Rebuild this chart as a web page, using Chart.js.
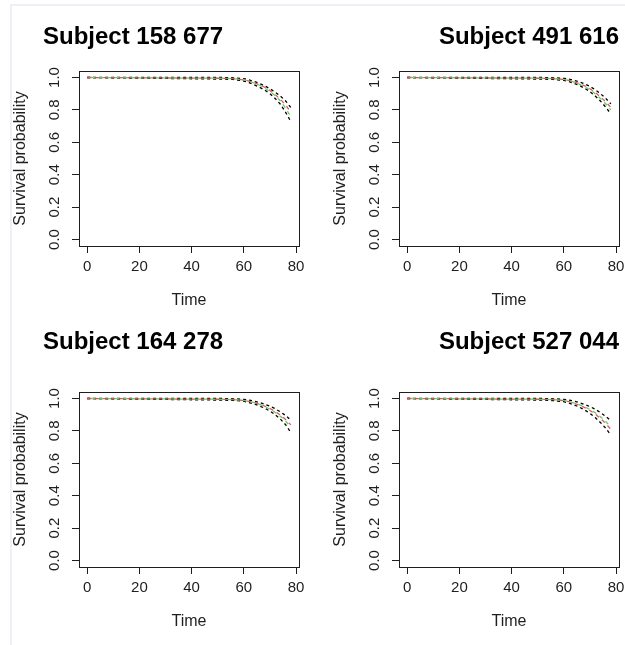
<!DOCTYPE html>
<html>
<head>
<meta charset="utf-8">
<script src="https://cdn.jsdelivr.net/npm/chart.js@4.4.0/dist/chart.umd.min.js"></script>
<style>
  html, body { margin: 0; padding: 0; background: #fff; overflow: hidden; }
  body { width: 625px; height: 645px; position: relative; }
  .frame { position: absolute; left: 10px; top: 4px; width: 640px; height: 660px;
           border-top: 2px solid #edf1f6; border-left: 2px solid #edf1f6; }
  canvas { position: absolute; }
</style>
</head>
<body>
<div class="frame"></div>
<canvas id="c1" width="320" height="320" style="left:0;top:0"></canvas>
<canvas id="c2" width="320" height="320" style="left:320px;top:0"></canvas>
<canvas id="c3" width="320" height="320" style="left:0;top:321px"></canvas>
<canvas id="c4" width="320" height="320" style="left:320px;top:321px"></canvas>
<script>
// time points shared by all curves
const times = [0, 52, 56, 60, 62, 64, 66, 68, 70, 72, 74, 76, 78];
const xTicks = [0, 20, 40, 60, 80];
const yTicks = [0, 0.2, 0.4, 0.6, 0.8, 1.0];

// Subject 158 677
const s1Upper = [1, 1, 0.998, 0.993, 0.985, 0.975, 0.963, 0.948, 0.93, 0.91, 0.885, 0.855, 0.815];
const s1Red   = [1, 0.995, 0.993, 0.985, 0.978, 0.968, 0.955, 0.94, 0.92, 0.895, 0.865, 0.83, 0.785];
const s1Green = [1, 0.995, 0.993, 0.985, 0.977, 0.966, 0.952, 0.935, 0.913, 0.887, 0.855, 0.81, 0.758];
const s1Lower = [1, 0.99, 0.988, 0.978, 0.968, 0.955, 0.94, 0.922, 0.9, 0.87, 0.835, 0.785, 0.728];

// Subject 491 616
const s2Upper = [1, 1, 0.998, 0.995, 0.99, 0.982, 0.972, 0.96, 0.945, 0.925, 0.9, 0.872, 0.837];
const s2Red   = [1, 0.995, 0.993, 0.988, 0.982, 0.973, 0.962, 0.948, 0.93, 0.908, 0.88, 0.85, 0.815];
const s2Green = [1, 0.995, 0.993, 0.988, 0.981, 0.971, 0.958, 0.943, 0.924, 0.9, 0.87, 0.838, 0.8];
const s2Lower = [1, 0.99, 0.988, 0.982, 0.974, 0.963, 0.95, 0.933, 0.912, 0.886, 0.855, 0.818, 0.775];

// Subject 164 278
const s3Upper = [1, 1, 0.998, 0.995, 0.99, 0.983, 0.975, 0.965, 0.952, 0.937, 0.917, 0.895, 0.866];
const s3Red   = [1, 0.995, 0.993, 0.988, 0.982, 0.975, 0.965, 0.953, 0.938, 0.92, 0.897, 0.87, 0.837];
const s3Green = [1, 0.995, 0.993, 0.988, 0.982, 0.974, 0.963, 0.95, 0.934, 0.914, 0.89, 0.86, 0.825];
const s3Lower = [1, 0.99, 0.988, 0.983, 0.975, 0.966, 0.954, 0.94, 0.922, 0.9, 0.873, 0.838, 0.79];

// Subject 527 044
const s4Upper = [1, 1, 0.998, 0.995, 0.99, 0.983, 0.974, 0.963, 0.95, 0.934, 0.913, 0.89, 0.862];
const s4Red   = [1, 0.995, 0.993, 0.987, 0.98, 0.97, 0.958, 0.944, 0.926, 0.904, 0.877, 0.846, 0.81];
const s4Green = [1, 0.995, 0.993, 0.988, 0.981, 0.972, 0.961, 0.948, 0.932, 0.912, 0.887, 0.858, 0.825];
const s4Lower = [1, 0.99, 0.987, 0.98, 0.971, 0.96, 0.946, 0.929, 0.908, 0.882, 0.852, 0.817, 0.775];

const FONT = '"Liberation Sans", Arial, sans-serif';
const INK = '#1e1e1e';

const pts = arr => arr.map((v, i) => ({ x: times[i], y: v }));

// box around the plot region + the bold subject title
const panelPlugin = {
  id: 'panel',
  afterDraw(chart, args, opts) {
    const { ctx, chartArea: a } = chart;
    ctx.save();
    ctx.strokeStyle = INK;
    ctx.lineWidth = 1;
    ctx.strokeRect(a.left + 0.5, a.top + 0.5, a.right - a.left, a.bottom - a.top);
    ctx.fillStyle = '#000';
    ctx.font = 'bold 24px ' + FONT;
    ctx.textBaseline = 'alphabetic';
    if (opts.align === 'right') {
      ctx.textAlign = 'right';
      ctx.fillText(opts.text, a.right, opts.baseline);
    } else {
      ctx.textAlign = 'left';
      ctx.fillText(opts.text, a.left - 36, opts.baseline);
    }
    ctx.restore();
  }
};

function line(data, color, dash, dashOffset) {
  return {
    data: pts(data),
    borderColor: color,
    borderWidth: 1.3,
    borderDash: dash,
    borderDashOffset: dashOffset,
    pointRadius: 0,
    fill: false,
    tension: 0
  };
}

// chart.js paints dataset 0 last, so green sits on top and the black bands underneath
function makeChart(id, title, align, baseline, upper, red, green, lower) {
  new Chart(document.getElementById(id), {
    type: 'line',
    data: {
      datasets: [
        line(green, '#61D04F', [4, 4], 4),
        line(red, '#DF536B', [4, 4], 0),
        line(lower, '#000', [3, 3], 0),
        line(upper, '#000', [3, 3], 0)
      ]
    },
    options: {
      responsive: false,
      animation: false,
      devicePixelRatio: 1,
      layout: { padding: { left: 0, top: 71, right: 21, bottom: 0 } },
      plugins: {
        legend: { display: false },
        tooltip: { enabled: false },
        panel: { text: title, align: align, baseline: baseline }
      },
      scales: {
        x: {
          type: 'linear',
          min: -3.12,
          max: 81.12,
          afterBuildTicks: s => { s.ticks = xTicks.map(v => ({ value: v })); },
          afterFit: s => { s.height = 74; },
          grid: { drawOnChartArea: false, drawTicks: true, tickLength: 7, color: INK },
          border: { display: false },
          ticks: { color: INK, font: { family: FONT, size: 15 }, padding: 5, maxRotation: 0 },
          title: { display: true, text: 'Time', color: INK,
                   font: { family: FONT, size: 16 }, padding: { top: 0, bottom: 10 } }
        },
        y: {
          min: -0.04,
          max: 1.04,
          afterBuildTicks: s => { s.ticks = yTicks.map(v => ({ value: v })); },
          afterFit: s => { s.width = 79; },
          grid: { drawOnChartArea: false, drawTicks: true, tickLength: 7, color: INK },
          border: { display: false },
          ticks: {
            color: INK, font: { family: FONT, size: 15 },
            minRotation: 90, maxRotation: 90, crossAlign: 'center', padding: 7,
            callback: v => Number(v).toFixed(1)
          },
          title: { display: true, text: 'Survival probability', color: INK,
                   font: { family: FONT, size: 16 }, padding: { top: 11, bottom: 0 } }
        }
      }
    },
    plugins: [panelPlugin]
  });
}

makeChart('c1', 'Subject 158 677', 'left', 44, s1Upper, s1Red, s1Green, s1Lower);
makeChart('c2', 'Subject 491 616', 'right', 44, s2Upper, s2Red, s2Green, s2Lower);
makeChart('c3', 'Subject 164 278', 'left', 28, s3Upper, s3Red, s3Green, s3Lower);
makeChart('c4', 'Subject 527 044', 'right', 28, s4Upper, s4Red, s4Green, s4Lower);
</script>
</body>
</html>
